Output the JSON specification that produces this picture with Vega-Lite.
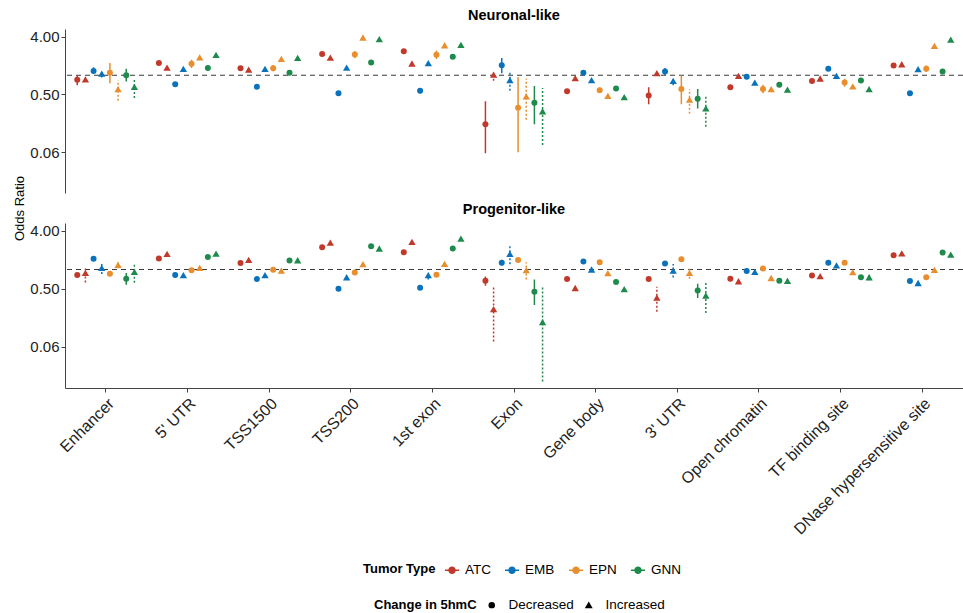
{
  "$schema": "https://vega.github.io/schema/vega-lite/v6.json",
  "background": "white",
  "padding": {"left": 13, "top": 7, "right": 0, "bottom": 0},
  "datasets": {
    "or": [
      {"p":"Neuronal-like","r":"Enhancer","t":"ATC","c":"Decreased","k":"ATC-D","or":0.85,"lo":0.70,"hi":1.00},
      {"p":"Neuronal-like","r":"Enhancer","t":"ATC","c":"Increased","k":"ATC-I","or":0.85,"lo":0.80,"hi":0.91},
      {"p":"Neuronal-like","r":"Enhancer","t":"EMB","c":"Decreased","k":"EMB-D","or":1.17,"lo":1.08,"hi":1.33},
      {"p":"Neuronal-like","r":"Enhancer","t":"EMB","c":"Increased","k":"EMB-I","or":1.05,"lo":0.92,"hi":1.12},
      {"p":"Neuronal-like","r":"Enhancer","t":"EPN","c":"Decreased","k":"EPN-D","or":1.09,"lo":0.75,"hi":1.56},
      {"p":"Neuronal-like","r":"Enhancer","t":"EPN","c":"Increased","k":"EPN-I","or":0.60,"lo":0.40,"hi":0.83},
      {"p":"Neuronal-like","r":"Enhancer","t":"GNN","c":"Decreased","k":"GNN-D","or":1.00,"lo":0.80,"hi":1.26},
      {"p":"Neuronal-like","r":"Enhancer","t":"GNN","c":"Increased","k":"GNN-I","or":0.65,"lo":0.44,"hi":0.88},

      {"p":"Neuronal-like","r":"5' UTR","t":"ATC","c":"Decreased","k":"ATC-D","or":1.56,"lo":1.48,"hi":1.64},
      {"p":"Neuronal-like","r":"5' UTR","t":"ATC","c":"Increased","k":"ATC-I","or":1.30,"lo":1.23,"hi":1.37},
      {"p":"Neuronal-like","r":"5' UTR","t":"EMB","c":"Decreased","k":"EMB-D","or":0.72,"lo":0.68,"hi":0.76},
      {"p":"Neuronal-like","r":"5' UTR","t":"EMB","c":"Increased","k":"EMB-I","or":1.24,"lo":1.18,"hi":1.30},
      {"p":"Neuronal-like","r":"5' UTR","t":"EPN","c":"Decreased","k":"EPN-D","or":1.51,"lo":1.30,"hi":1.75},
      {"p":"Neuronal-like","r":"5' UTR","t":"EPN","c":"Increased","k":"EPN-I","or":1.89,"lo":1.78,"hi":2.00},
      {"p":"Neuronal-like","r":"5' UTR","t":"GNN","c":"Decreased","k":"GNN-D","or":1.30,"lo":1.24,"hi":1.36},
      {"p":"Neuronal-like","r":"5' UTR","t":"GNN","c":"Increased","k":"GNN-I","or":2.06,"lo":1.95,"hi":2.17},

      {"p":"Neuronal-like","r":"TSS1500","t":"ATC","c":"Decreased","k":"ATC-D","or":1.29,"lo":1.22,"hi":1.36},
      {"p":"Neuronal-like","r":"TSS1500","t":"ATC","c":"Increased","k":"ATC-I","or":1.21,"lo":1.15,"hi":1.27},
      {"p":"Neuronal-like","r":"TSS1500","t":"EMB","c":"Decreased","k":"EMB-D","or":0.66,"lo":0.62,"hi":0.70},
      {"p":"Neuronal-like","r":"TSS1500","t":"EMB","c":"Increased","k":"EMB-I","or":1.24,"lo":1.18,"hi":1.30},
      {"p":"Neuronal-like","r":"TSS1500","t":"EPN","c":"Decreased","k":"EPN-D","or":1.29,"lo":1.15,"hi":1.45},
      {"p":"Neuronal-like","r":"TSS1500","t":"EPN","c":"Increased","k":"EPN-I","or":1.78,"lo":1.68,"hi":1.88},
      {"p":"Neuronal-like","r":"TSS1500","t":"GNN","c":"Decreased","k":"GNN-D","or":1.09,"lo":1.03,"hi":1.15},
      {"p":"Neuronal-like","r":"TSS1500","t":"GNN","c":"Increased","k":"GNN-I","or":1.85,"lo":1.75,"hi":1.95},

      {"p":"Neuronal-like","r":"TSS200","t":"ATC","c":"Decreased","k":"ATC-D","or":2.16,"lo":2.05,"hi":2.28},
      {"p":"Neuronal-like","r":"TSS200","t":"ATC","c":"Increased","k":"ATC-I","or":1.87,"lo":1.77,"hi":1.97},
      {"p":"Neuronal-like","r":"TSS200","t":"EMB","c":"Decreased","k":"EMB-D","or":0.52,"lo":0.49,"hi":0.55},
      {"p":"Neuronal-like","r":"TSS200","t":"EMB","c":"Increased","k":"EMB-I","or":1.30,"lo":1.23,"hi":1.37},
      {"p":"Neuronal-like","r":"TSS200","t":"EPN","c":"Decreased","k":"EPN-D","or":2.11,"lo":1.85,"hi":2.40},
      {"p":"Neuronal-like","r":"TSS200","t":"EPN","c":"Increased","k":"EPN-I","or":3.86,"lo":3.65,"hi":4.08},
      {"p":"Neuronal-like","r":"TSS200","t":"GNN","c":"Decreased","k":"GNN-D","or":1.58,"lo":1.50,"hi":1.66},
      {"p":"Neuronal-like","r":"TSS200","t":"GNN","c":"Increased","k":"GNN-I","or":3.63,"lo":3.44,"hi":3.83},

      {"p":"Neuronal-like","r":"1st exon","t":"ATC","c":"Decreased","k":"ATC-D","or":2.38,"lo":2.25,"hi":2.51},
      {"p":"Neuronal-like","r":"1st exon","t":"ATC","c":"Increased","k":"ATC-I","or":1.51,"lo":1.43,"hi":1.59},
      {"p":"Neuronal-like","r":"1st exon","t":"EMB","c":"Decreased","k":"EMB-D","or":0.57,"lo":0.52,"hi":0.62},
      {"p":"Neuronal-like","r":"1st exon","t":"EMB","c":"Increased","k":"EMB-I","or":1.53,"lo":1.45,"hi":1.61},
      {"p":"Neuronal-like","r":"1st exon","t":"EPN","c":"Decreased","k":"EPN-D","or":2.09,"lo":1.80,"hi":2.45},
      {"p":"Neuronal-like","r":"1st exon","t":"EPN","c":"Increased","k":"EPN-I","or":2.92,"lo":2.77,"hi":3.08},
      {"p":"Neuronal-like","r":"1st exon","t":"GNN","c":"Decreased","k":"GNN-D","or":1.94,"lo":1.84,"hi":2.04},
      {"p":"Neuronal-like","r":"1st exon","t":"GNN","c":"Increased","k":"GNN-I","or":2.96,"lo":2.80,"hi":3.12},

      {"p":"Neuronal-like","r":"Exon","t":"ATC","c":"Decreased","k":"ATC-D","or":0.17,"lo":0.060,"hi":0.39},
      {"p":"Neuronal-like","r":"Exon","t":"ATC","c":"Increased","k":"ATC-I","or":1.01,"lo":0.82,"hi":1.10},
      {"p":"Neuronal-like","r":"Exon","t":"EMB","c":"Decreased","k":"EMB-D","or":1.44,"lo":1.07,"hi":1.87},
      {"p":"Neuronal-like","r":"Exon","t":"EMB","c":"Increased","k":"EMB-I","or":0.83,"lo":0.57,"hi":1.11},
      {"p":"Neuronal-like","r":"Exon","t":"EPN","c":"Decreased","k":"EPN-D","or":0.31,"lo":0.062,"hi":0.93},
      {"p":"Neuronal-like","r":"Exon","t":"EPN","c":"Increased","k":"EPN-I","or":0.46,"lo":0.20,"hi":0.88},
      {"p":"Neuronal-like","r":"Exon","t":"GNN","c":"Decreased","k":"GNN-D","or":0.37,"lo":0.17,"hi":0.68},
      {"p":"Neuronal-like","r":"Exon","t":"GNN","c":"Increased","k":"GNN-I","or":0.27,"lo":0.081,"hi":0.63},

      {"p":"Neuronal-like","r":"Gene body","t":"ATC","c":"Decreased","k":"ATC-D","or":0.56,"lo":0.53,"hi":0.59},
      {"p":"Neuronal-like","r":"Gene body","t":"ATC","c":"Increased","k":"ATC-I","or":0.89,"lo":0.84,"hi":0.94},
      {"p":"Neuronal-like","r":"Gene body","t":"EMB","c":"Decreased","k":"EMB-D","or":1.09,"lo":1.03,"hi":1.15},
      {"p":"Neuronal-like","r":"Gene body","t":"EMB","c":"Increased","k":"EMB-I","or":0.83,"lo":0.79,"hi":0.87},
      {"p":"Neuronal-like","r":"Gene body","t":"EPN","c":"Decreased","k":"EPN-D","or":0.58,"lo":0.53,"hi":0.64},
      {"p":"Neuronal-like","r":"Gene body","t":"EPN","c":"Increased","k":"EPN-I","or":0.47,"lo":0.44,"hi":0.50},
      {"p":"Neuronal-like","r":"Gene body","t":"GNN","c":"Decreased","k":"GNN-D","or":0.62,"lo":0.59,"hi":0.65},
      {"p":"Neuronal-like","r":"Gene body","t":"GNN","c":"Increased","k":"GNN-I","or":0.45,"lo":0.42,"hi":0.48},

      {"p":"Neuronal-like","r":"3' UTR","t":"ATC","c":"Decreased","k":"ATC-D","or":0.48,"lo":0.35,"hi":0.65},
      {"p":"Neuronal-like","r":"3' UTR","t":"ATC","c":"Increased","k":"ATC-I","or":1.07,"lo":1.01,"hi":1.13},
      {"p":"Neuronal-like","r":"3' UTR","t":"EMB","c":"Decreased","k":"EMB-D","or":1.14,"lo":1.00,"hi":1.30},
      {"p":"Neuronal-like","r":"3' UTR","t":"EMB","c":"Increased","k":"EMB-I","or":0.81,"lo":0.70,"hi":0.88},
      {"p":"Neuronal-like","r":"3' UTR","t":"EPN","c":"Decreased","k":"EPN-D","or":0.61,"lo":0.35,"hi":0.99},
      {"p":"Neuronal-like","r":"3' UTR","t":"EPN","c":"Increased","k":"EPN-I","or":0.41,"lo":0.25,"hi":0.61},
      {"p":"Neuronal-like","r":"3' UTR","t":"GNN","c":"Decreased","k":"GNN-D","or":0.43,"lo":0.30,"hi":0.61},
      {"p":"Neuronal-like","r":"3' UTR","t":"GNN","c":"Increased","k":"GNN-I","or":0.30,"lo":0.156,"hi":0.48},

      {"p":"Neuronal-like","r":"Open chromatin","t":"ATC","c":"Decreased","k":"ATC-D","or":0.65,"lo":0.62,"hi":0.69},
      {"p":"Neuronal-like","r":"Open chromatin","t":"ATC","c":"Increased","k":"ATC-I","or":0.97,"lo":0.92,"hi":1.02},
      {"p":"Neuronal-like","r":"Open chromatin","t":"EMB","c":"Decreased","k":"EMB-D","or":0.95,"lo":0.90,"hi":1.00},
      {"p":"Neuronal-like","r":"Open chromatin","t":"EMB","c":"Increased","k":"EMB-I","or":0.76,"lo":0.72,"hi":0.80},
      {"p":"Neuronal-like","r":"Open chromatin","t":"EPN","c":"Decreased","k":"EPN-D","or":0.61,"lo":0.52,"hi":0.71},
      {"p":"Neuronal-like","r":"Open chromatin","t":"EPN","c":"Increased","k":"EPN-I","or":0.60,"lo":0.56,"hi":0.64},
      {"p":"Neuronal-like","r":"Open chromatin","t":"GNN","c":"Decreased","k":"GNN-D","or":0.71,"lo":0.67,"hi":0.75},
      {"p":"Neuronal-like","r":"Open chromatin","t":"GNN","c":"Increased","k":"GNN-I","or":0.59,"lo":0.55,"hi":0.63},

      {"p":"Neuronal-like","r":"TF binding site","t":"ATC","c":"Decreased","k":"ATC-D","or":0.81,"lo":0.77,"hi":0.85},
      {"p":"Neuronal-like","r":"TF binding site","t":"ATC","c":"Increased","k":"ATC-I","or":0.88,"lo":0.83,"hi":0.93},
      {"p":"Neuronal-like","r":"TF binding site","t":"EMB","c":"Decreased","k":"EMB-D","or":1.26,"lo":1.19,"hi":1.33},
      {"p":"Neuronal-like","r":"TF binding site","t":"EMB","c":"Increased","k":"EMB-I","or":0.97,"lo":0.92,"hi":1.02},
      {"p":"Neuronal-like","r":"TF binding site","t":"EPN","c":"Decreased","k":"EPN-D","or":0.77,"lo":0.66,"hi":0.88},
      {"p":"Neuronal-like","r":"TF binding site","t":"EPN","c":"Increased","k":"EPN-I","or":0.66,"lo":0.62,"hi":0.70},
      {"p":"Neuronal-like","r":"TF binding site","t":"GNN","c":"Decreased","k":"GNN-D","or":0.83,"lo":0.79,"hi":0.87},
      {"p":"Neuronal-like","r":"TF binding site","t":"GNN","c":"Increased","k":"GNN-I","or":0.60,"lo":0.56,"hi":0.64},

      {"p":"Neuronal-like","r":"DNase hypersensitive site","t":"ATC","c":"Decreased","k":"ATC-D","or":1.42,"lo":1.35,"hi":1.49},
      {"p":"Neuronal-like","r":"DNase hypersensitive site","t":"ATC","c":"Increased","k":"ATC-I","or":1.47,"lo":1.40,"hi":1.54},
      {"p":"Neuronal-like","r":"DNase hypersensitive site","t":"EMB","c":"Decreased","k":"EMB-D","or":0.52,"lo":0.49,"hi":0.55},
      {"p":"Neuronal-like","r":"DNase hypersensitive site","t":"EMB","c":"Increased","k":"EMB-I","or":1.23,"lo":1.17,"hi":1.29},
      {"p":"Neuronal-like","r":"DNase hypersensitive site","t":"EPN","c":"Decreased","k":"EPN-D","or":1.26,"lo":1.12,"hi":1.42},
      {"p":"Neuronal-like","r":"DNase hypersensitive site","t":"EPN","c":"Increased","k":"EPN-I","or":2.85,"lo":2.70,"hi":3.00},
      {"p":"Neuronal-like","r":"DNase hypersensitive site","t":"GNN","c":"Decreased","k":"GNN-D","or":1.14,"lo":1.08,"hi":1.20},
      {"p":"Neuronal-like","r":"DNase hypersensitive site","t":"GNN","c":"Increased","k":"GNN-I","or":3.58,"lo":3.40,"hi":3.77},

      {"p":"Progenitor-like","r":"Enhancer","t":"ATC","c":"Decreased","k":"ATC-D","or":0.82,"lo":0.78,"hi":0.86},
      {"p":"Progenitor-like","r":"Enhancer","t":"ATC","c":"Increased","k":"ATC-I","or":0.88,"lo":0.63,"hi":1.11},
      {"p":"Progenitor-like","r":"Enhancer","t":"EMB","c":"Decreased","k":"EMB-D","or":1.47,"lo":1.40,"hi":1.55},
      {"p":"Progenitor-like","r":"Enhancer","t":"EMB","c":"Increased","k":"EMB-I","or":1.05,"lo":0.85,"hi":1.30},
      {"p":"Progenitor-like","r":"Enhancer","t":"EPN","c":"Decreased","k":"EPN-D","or":0.86,"lo":0.82,"hi":0.90},
      {"p":"Progenitor-like","r":"Enhancer","t":"EPN","c":"Increased","k":"EPN-I","or":1.17,"lo":1.05,"hi":1.30},
      {"p":"Progenitor-like","r":"Enhancer","t":"GNN","c":"Decreased","k":"GNN-D","or":0.72,"lo":0.58,"hi":0.88},
      {"p":"Progenitor-like","r":"Enhancer","t":"GNN","c":"Increased","k":"GNN-I","or":0.91,"lo":0.62,"hi":1.25},

      {"p":"Progenitor-like","r":"5' UTR","t":"ATC","c":"Decreased","k":"ATC-D","or":1.48,"lo":1.40,"hi":1.56},
      {"p":"Progenitor-like","r":"5' UTR","t":"ATC","c":"Increased","k":"ATC-I","or":1.73,"lo":1.63,"hi":1.83},
      {"p":"Progenitor-like","r":"5' UTR","t":"EMB","c":"Decreased","k":"EMB-D","or":0.82,"lo":0.78,"hi":0.86},
      {"p":"Progenitor-like","r":"5' UTR","t":"EMB","c":"Increased","k":"EMB-I","or":0.81,"lo":0.75,"hi":0.87},
      {"p":"Progenitor-like","r":"5' UTR","t":"EPN","c":"Decreased","k":"EPN-D","or":0.97,"lo":0.92,"hi":1.02},
      {"p":"Progenitor-like","r":"5' UTR","t":"EPN","c":"Increased","k":"EPN-I","or":1.05,"lo":0.99,"hi":1.11},
      {"p":"Progenitor-like","r":"5' UTR","t":"GNN","c":"Decreased","k":"GNN-D","or":1.56,"lo":1.48,"hi":1.64},
      {"p":"Progenitor-like","r":"5' UTR","t":"GNN","c":"Increased","k":"GNN-I","or":1.75,"lo":1.65,"hi":1.85},

      {"p":"Progenitor-like","r":"TSS1500","t":"ATC","c":"Decreased","k":"ATC-D","or":1.26,"lo":1.19,"hi":1.33},
      {"p":"Progenitor-like","r":"TSS1500","t":"ATC","c":"Increased","k":"ATC-I","or":1.40,"lo":1.32,"hi":1.48},
      {"p":"Progenitor-like","r":"TSS1500","t":"EMB","c":"Decreased","k":"EMB-D","or":0.71,"lo":0.67,"hi":0.75},
      {"p":"Progenitor-like","r":"TSS1500","t":"EMB","c":"Increased","k":"EMB-I","or":0.81,"lo":0.75,"hi":0.87},
      {"p":"Progenitor-like","r":"TSS1500","t":"EPN","c":"Decreased","k":"EPN-D","or":0.99,"lo":0.94,"hi":1.04},
      {"p":"Progenitor-like","r":"TSS1500","t":"EPN","c":"Increased","k":"EPN-I","or":0.95,"lo":0.90,"hi":1.00},
      {"p":"Progenitor-like","r":"TSS1500","t":"GNN","c":"Decreased","k":"GNN-D","or":1.38,"lo":1.31,"hi":1.45},
      {"p":"Progenitor-like","r":"TSS1500","t":"GNN","c":"Increased","k":"GNN-I","or":1.38,"lo":1.30,"hi":1.46},

      {"p":"Progenitor-like","r":"TSS200","t":"ATC","c":"Decreased","k":"ATC-D","or":2.23,"lo":2.11,"hi":2.35},
      {"p":"Progenitor-like","r":"TSS200","t":"ATC","c":"Increased","k":"ATC-I","or":2.60,"lo":2.46,"hi":2.74},
      {"p":"Progenitor-like","r":"TSS200","t":"EMB","c":"Decreased","k":"EMB-D","or":0.50,"lo":0.47,"hi":0.53},
      {"p":"Progenitor-like","r":"TSS200","t":"EMB","c":"Increased","k":"EMB-I","or":0.75,"lo":0.71,"hi":0.79},
      {"p":"Progenitor-like","r":"TSS200","t":"EPN","c":"Decreased","k":"EPN-D","or":0.90,"lo":0.85,"hi":0.95},
      {"p":"Progenitor-like","r":"TSS200","t":"EPN","c":"Increased","k":"EPN-I","or":1.20,"lo":1.13,"hi":1.27},
      {"p":"Progenitor-like","r":"TSS200","t":"GNN","c":"Decreased","k":"GNN-D","or":2.31,"lo":2.19,"hi":2.43},
      {"p":"Progenitor-like","r":"TSS200","t":"GNN","c":"Increased","k":"GNN-I","or":2.10,"lo":1.99,"hi":2.21},

      {"p":"Progenitor-like","r":"1st exon","t":"ATC","c":"Decreased","k":"ATC-D","or":1.86,"lo":1.76,"hi":1.96},
      {"p":"Progenitor-like","r":"1st exon","t":"ATC","c":"Increased","k":"ATC-I","or":2.66,"lo":2.52,"hi":2.80},
      {"p":"Progenitor-like","r":"1st exon","t":"EMB","c":"Decreased","k":"EMB-D","or":0.52,"lo":0.49,"hi":0.55},
      {"p":"Progenitor-like","r":"1st exon","t":"EMB","c":"Increased","k":"EMB-I","or":0.81,"lo":0.70,"hi":0.90},
      {"p":"Progenitor-like","r":"1st exon","t":"EPN","c":"Decreased","k":"EPN-D","or":0.83,"lo":0.79,"hi":0.87},
      {"p":"Progenitor-like","r":"1st exon","t":"EPN","c":"Increased","k":"EPN-I","or":1.21,"lo":1.12,"hi":1.30},
      {"p":"Progenitor-like","r":"1st exon","t":"GNN","c":"Decreased","k":"GNN-D","or":2.12,"lo":2.00,"hi":2.24},
      {"p":"Progenitor-like","r":"1st exon","t":"GNN","c":"Increased","k":"GNN-I","or":3.00,"lo":2.80,"hi":3.20},

      {"p":"Progenitor-like","r":"Exon","t":"ATC","c":"Decreased","k":"ATC-D","or":0.67,"lo":0.56,"hi":0.78},
      {"p":"Progenitor-like","r":"Exon","t":"ATC","c":"Increased","k":"ATC-I","or":0.24,"lo":0.076,"hi":0.56},
      {"p":"Progenitor-like","r":"Exon","t":"EMB","c":"Decreased","k":"EMB-D","or":1.28,"lo":1.15,"hi":1.42},
      {"p":"Progenitor-like","r":"Exon","t":"EMB","c":"Increased","k":"EMB-I","or":1.73,"lo":1.21,"hi":2.36},
      {"p":"Progenitor-like","r":"Exon","t":"EPN","c":"Decreased","k":"EPN-D","or":1.41,"lo":1.34,"hi":1.48},
      {"p":"Progenitor-like","r":"Exon","t":"EPN","c":"Increased","k":"EPN-I","or":0.97,"lo":0.70,"hi":1.30},
      {"p":"Progenitor-like","r":"Exon","t":"GNN","c":"Decreased","k":"GNN-D","or":0.45,"lo":0.28,"hi":0.70},
      {"p":"Progenitor-like","r":"Exon","t":"GNN","c":"Increased","k":"GNN-I","or":0.15,"lo":0.018,"hi":0.56},

      {"p":"Progenitor-like","r":"Gene body","t":"ATC","c":"Decreased","k":"ATC-D","or":0.71,"lo":0.67,"hi":0.75},
      {"p":"Progenitor-like","r":"Gene body","t":"ATC","c":"Increased","k":"ATC-I","or":0.51,"lo":0.48,"hi":0.54},
      {"p":"Progenitor-like","r":"Gene body","t":"EMB","c":"Decreased","k":"EMB-D","or":1.33,"lo":1.26,"hi":1.40},
      {"p":"Progenitor-like","r":"Gene body","t":"EMB","c":"Increased","k":"EMB-I","or":0.99,"lo":0.94,"hi":1.04},
      {"p":"Progenitor-like","r":"Gene body","t":"EPN","c":"Decreased","k":"EPN-D","or":1.30,"lo":1.23,"hi":1.37},
      {"p":"Progenitor-like","r":"Gene body","t":"EPN","c":"Increased","k":"EPN-I","or":0.87,"lo":0.82,"hi":0.92},
      {"p":"Progenitor-like","r":"Gene body","t":"GNN","c":"Decreased","k":"GNN-D","or":0.64,"lo":0.61,"hi":0.67},
      {"p":"Progenitor-like","r":"Gene body","t":"GNN","c":"Increased","k":"GNN-I","or":0.49,"lo":0.46,"hi":0.52},

      {"p":"Progenitor-like","r":"3' UTR","t":"ATC","c":"Decreased","k":"ATC-D","or":0.71,"lo":0.67,"hi":0.75},
      {"p":"Progenitor-like","r":"3' UTR","t":"ATC","c":"Increased","k":"ATC-I","or":0.36,"lo":0.22,"hi":0.54},
      {"p":"Progenitor-like","r":"3' UTR","t":"EMB","c":"Decreased","k":"EMB-D","or":1.24,"lo":1.17,"hi":1.31},
      {"p":"Progenitor-like","r":"3' UTR","t":"EMB","c":"Increased","k":"EMB-I","or":0.95,"lo":0.75,"hi":1.22},
      {"p":"Progenitor-like","r":"3' UTR","t":"EPN","c":"Decreased","k":"EPN-D","or":1.45,"lo":1.37,"hi":1.53},
      {"p":"Progenitor-like","r":"3' UTR","t":"EPN","c":"Increased","k":"EPN-I","or":0.88,"lo":0.72,"hi":1.08},
      {"p":"Progenitor-like","r":"3' UTR","t":"GNN","c":"Decreased","k":"GNN-D","or":0.47,"lo":0.36,"hi":0.60},
      {"p":"Progenitor-like","r":"3' UTR","t":"GNN","c":"Increased","k":"GNN-I","or":0.39,"lo":0.21,"hi":0.65},

      {"p":"Progenitor-like","r":"Open chromatin","t":"ATC","c":"Decreased","k":"ATC-D","or":0.72,"lo":0.68,"hi":0.76},
      {"p":"Progenitor-like","r":"Open chromatin","t":"ATC","c":"Increased","k":"ATC-I","or":0.65,"lo":0.61,"hi":0.69},
      {"p":"Progenitor-like","r":"Open chromatin","t":"EMB","c":"Decreased","k":"EMB-D","or":0.95,"lo":0.90,"hi":1.00},
      {"p":"Progenitor-like","r":"Open chromatin","t":"EMB","c":"Increased","k":"EMB-I","or":0.91,"lo":0.86,"hi":0.96},
      {"p":"Progenitor-like","r":"Open chromatin","t":"EPN","c":"Decreased","k":"EPN-D","or":1.04,"lo":0.99,"hi":1.09},
      {"p":"Progenitor-like","r":"Open chromatin","t":"EPN","c":"Increased","k":"EPN-I","or":0.73,"lo":0.69,"hi":0.77},
      {"p":"Progenitor-like","r":"Open chromatin","t":"GNN","c":"Decreased","k":"GNN-D","or":0.67,"lo":0.64,"hi":0.70},
      {"p":"Progenitor-like","r":"Open chromatin","t":"GNN","c":"Increased","k":"GNN-I","or":0.66,"lo":0.60,"hi":0.72},

      {"p":"Progenitor-like","r":"TF binding site","t":"ATC","c":"Decreased","k":"ATC-D","or":0.81,"lo":0.77,"hi":0.85},
      {"p":"Progenitor-like","r":"TF binding site","t":"ATC","c":"Increased","k":"ATC-I","or":0.78,"lo":0.74,"hi":0.82},
      {"p":"Progenitor-like","r":"TF binding site","t":"EMB","c":"Decreased","k":"EMB-D","or":1.28,"lo":1.21,"hi":1.35},
      {"p":"Progenitor-like","r":"TF binding site","t":"EMB","c":"Increased","k":"EMB-I","or":1.15,"lo":1.09,"hi":1.21},
      {"p":"Progenitor-like","r":"TF binding site","t":"EPN","c":"Decreased","k":"EPN-D","or":1.28,"lo":1.21,"hi":1.35},
      {"p":"Progenitor-like","r":"TF binding site","t":"EPN","c":"Increased","k":"EPN-I","or":0.90,"lo":0.85,"hi":0.95},
      {"p":"Progenitor-like","r":"TF binding site","t":"GNN","c":"Decreased","k":"GNN-D","or":0.76,"lo":0.72,"hi":0.80},
      {"p":"Progenitor-like","r":"TF binding site","t":"GNN","c":"Increased","k":"GNN-I","or":0.75,"lo":0.68,"hi":0.82},

      {"p":"Progenitor-like","r":"DNase hypersensitive site","t":"ATC","c":"Decreased","k":"ATC-D","or":1.67,"lo":1.58,"hi":1.76},
      {"p":"Progenitor-like","r":"DNase hypersensitive site","t":"ATC","c":"Increased","k":"ATC-I","or":1.77,"lo":1.68,"hi":1.86},
      {"p":"Progenitor-like","r":"DNase hypersensitive site","t":"EMB","c":"Decreased","k":"EMB-D","or":0.66,"lo":0.63,"hi":0.69},
      {"p":"Progenitor-like","r":"DNase hypersensitive site","t":"EMB","c":"Increased","k":"EMB-I","or":0.61,"lo":0.58,"hi":0.64},
      {"p":"Progenitor-like","r":"DNase hypersensitive site","t":"EPN","c":"Decreased","k":"EPN-D","or":0.76,"lo":0.72,"hi":0.80},
      {"p":"Progenitor-like","r":"DNase hypersensitive site","t":"EPN","c":"Increased","k":"EPN-I","or":0.98,"lo":0.93,"hi":1.03},
      {"p":"Progenitor-like","r":"DNase hypersensitive site","t":"GNN","c":"Decreased","k":"GNN-D","or":1.84,"lo":1.75,"hi":1.93},
      {"p":"Progenitor-like","r":"DNase hypersensitive site","t":"GNN","c":"Increased","k":"GNN-I","or":1.69,"lo":1.58,"hi":1.82}
    ]
  },
  "data": {"name": "or"},
  "bounds": "flush",
  "spacing": 30,
  "resolve": {"scale": {"color": "shared", "shape": "shared", "strokeDash": "shared"}},
  "vconcat": [
    {
      "title": {"text": "Neuronal-like", "fontSize": 14.5, "fontWeight": "bold", "anchor": "middle", "color": "black", "offset": 6},
      "transform": [{"filter": "datum.p == 'Neuronal-like'"}],
      "width": 898,
      "height": 164,
      "layer": [
        {
          "transform": [{"aggregate": [{"op": "count", "as": "n"}]}],
          "mark": {"type": "rule", "strokeDash": [5, 4], "color": "#3a3a3a", "strokeWidth": 1.1},
          "encoding": {"y": {"datum": 1, "type": "quantitative", "scale": {"type": "log", "base": 2, "domain": [0.0143, 5.3], "nice": false, "zero": false}}}
        },
        {
          "encoding": {
            "x": {
              "field": "r", "type": "nominal", "title": null,
              "scale": {"domain": ["Enhancer", "5' UTR", "TSS1500", "TSS200", "1st exon", "Exon", "Gene body", "3' UTR", "Open chromatin", "TF binding site", "DNase hypersensitive site"], "paddingInner": 0.2, "paddingOuter": 0.1},
              "axis": {"labels": false, "ticks": false, "domain": false}
            },
            "xOffset": {
              "field": "k", "type": "nominal",
              "scale": {"domain": ["ATC-D", "ATC-I", "EMB-D", "EMB-I", "EPN-D", "EPN-I", "GNN-D", "GNN-I"], "paddingInner": 0, "paddingOuter": 0}
            },
            "color": {
              "field": "t", "type": "nominal", "title": "Tumor Type",
              "scale": {"domain": ["ATC", "EMB", "EPN", "GNN"], "range": ["#C0392B", "#0A72BA", "#E88E2E", "#1E8A4C"]},
              "legend": {
                "orient": "none", "legendX": 298, "legendY": 533, "direction": "horizontal", "titleOrient": "left",
                "symbolType": "M-1,0L1,0M0.42,0A0.42,0.42,0,1,1,-0.42,0A0.42,0.42,0,1,1,0.42,0Z",
                "symbolSize": 200, "symbolStrokeWidth": 1.5
              }
            }
          },
          "layer": [
            {
              "mark": {"type": "rule", "strokeWidth": 1.5},
              "encoding": {
                "y": {"field": "lo", "type": "quantitative"},
                "y2": {"field": "hi"},
                "strokeDash": {"field": "c", "type": "nominal", "scale": {"domain": ["Decreased", "Increased"], "range": [[1, 0], [2, 2]]}}
              }
            },
            {
              "mark": {"type": "point", "filled": true, "opacity": 1, "size": 36},
              "encoding": {
                "y": {
                  "field": "or", "type": "quantitative", "title": "Odds Ratio",
                  "axis": {"values": [0.0625, 0.5, 4], "format": ".2f", "titleY": 179, "titlePadding": 3}
                },
                "shape": {
                  "field": "c", "type": "nominal", "title": "Change in 5hmC",
                  "scale": {"domain": ["Decreased", "Increased"], "range": ["circle", "M0,-1.15L1.22,0.95L-1.22,0.95Z"]},
                  "legend": {
                    "orient": "none", "legendX": 309, "legendY": 569, "direction": "horizontal", "titleOrient": "left",
                    "symbolSize": 42, "symbolStrokeWidth": 0, "symbolFillColor": "black", "columnPadding": 8, "labelOffset": 10
                  }
                }
              }
            }
          ]
        }
      ]
    },
    {
      "title": {"text": "Progenitor-like", "fontSize": 14.5, "fontWeight": "bold", "anchor": "middle", "color": "black", "offset": 6},
      "transform": [{"filter": "datum.p == 'Progenitor-like'"}],
      "width": 898,
      "height": 165,
      "layer": [
        {
          "transform": [{"aggregate": [{"op": "count", "as": "n"}]}],
          "mark": {"type": "rule", "strokeDash": [5, 4], "color": "#3a3a3a", "strokeWidth": 1.1},
          "encoding": {"y": {"datum": 1, "type": "quantitative", "scale": {"type": "log", "base": 2, "domain": [0.0143, 5.3], "nice": false, "zero": false}}}
        },
        {
          "encoding": {
            "x": {
              "field": "r", "type": "nominal", "title": null,
              "scale": {"domain": ["Enhancer", "5' UTR", "TSS1500", "TSS200", "1st exon", "Exon", "Gene body", "3' UTR", "Open chromatin", "TF binding site", "DNase hypersensitive site"], "paddingInner": 0.2, "paddingOuter": 0.1},
              "axis": {"labelAngle": -45, "labelFontSize": 16, "labelPadding": 3, "labelLimit": 0}
            },
            "xOffset": {
              "field": "k", "type": "nominal",
              "scale": {"domain": ["ATC-D", "ATC-I", "EMB-D", "EMB-I", "EPN-D", "EPN-I", "GNN-D", "GNN-I"], "paddingInner": 0, "paddingOuter": 0}
            },
            "color": {"field": "t", "type": "nominal", "title": "Tumor Type"}
          },
          "layer": [
            {
              "mark": {"type": "rule", "strokeWidth": 1.5},
              "encoding": {
                "y": {"field": "lo", "type": "quantitative"},
                "y2": {"field": "hi"},
                "strokeDash": {"field": "c", "type": "nominal"}
              }
            },
            {
              "mark": {"type": "point", "filled": true, "opacity": 1, "size": 36},
              "encoding": {
                "y": {
                  "field": "or", "type": "quantitative", "title": null,
                  "axis": {"values": [0.0625, 0.5, 4], "format": ".2f"}
                },
                "shape": {"field": "c", "type": "nominal", "title": "Change in 5hmC"}
              }
            }
          ]
        }
      ]
    }
  ],
  "config": {
    "font": "Liberation Sans",
    "view": {"stroke": null},
    "axis": {"grid": false, "labelFont": "Liberation Sans", "titleFont": "Liberation Sans", "labelFontSize": 15, "labelColor": "#222", "tickSize": 4, "tickColor": "#444", "domainColor": "#444", "titleFontSize": 13, "titleFontWeight": "normal", "titleColor": "black", "labelPadding": 2},
    "legend": {"titleFontSize": 13, "titleFontWeight": "bold", "titleColor": "black", "labelFontSize": 13.5, "labelColor": "black", "columnPadding": 10, "labelOffset": 5, "symbolOffset": 0, "titlePadding": 8}
  }
}
